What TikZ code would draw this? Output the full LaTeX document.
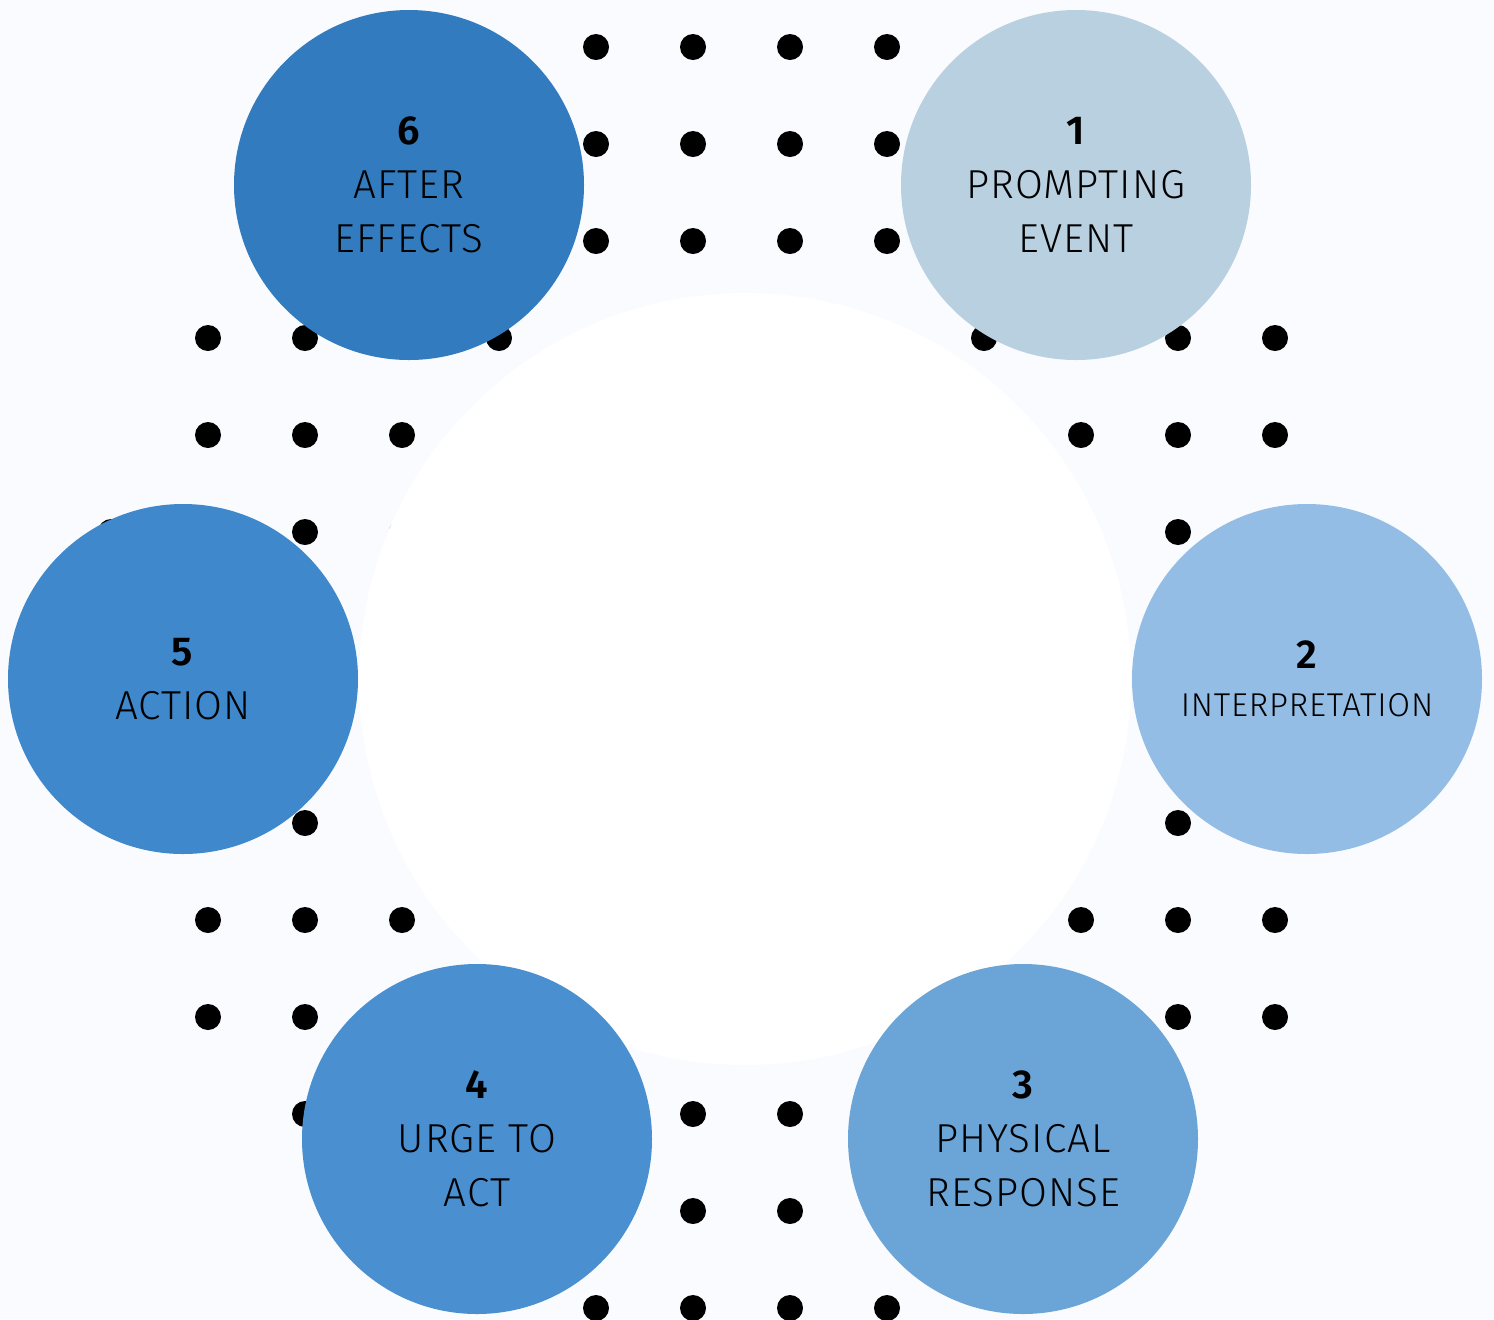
\documentclass[tikz,border=0pt]{standalone}
\usepackage{fontspec}
\setmainfont{Fira Sans Light}[BoldFont={Fira Sans SemiBold}, LetterSpace=2.5]
\usepackage{tikz}
\usetikzlibrary{positioning}
\usepackage{xcolor}
\definecolor{paper}{RGB}{249,251,254}
\definecolor{stageA}{RGB}{184,208,223}
\definecolor{stageB}{RGB}{148,189,229}
\definecolor{stageC}{RGB}{107,165,215}
\definecolor{stageD}{RGB}{74,143,208}
\definecolor{stageE}{RGB}{63,136,204}
\definecolor{stageF}{RGB}{50,123,191}

\tikzset{
  stage/.style={circle, minimum size=175pt, inner sep=0pt, align=center,
    text=black, font=\fontsize{20.2}{27}\selectfont},
}

\begin{document}
\begin{tikzpicture}[x=0.5pt, y=-0.5pt]
  \fill[paper] (0,0) rectangle (1494,1319);
  \useasboundingbox (0,0) rectangle (1494,1319);
  \foreach \i in {0,...,13}{
    \foreach \j in {0,...,13}{
      \pgfmathtruncatemacro{\keep}{(\i-6.5)^2+(\j-6.5)^2 < 46.2}
      \ifnum\keep=1
        \fill (111+97*\i, 47+97*\j) circle[radius=6.5pt];
      \fi
    }
  }
  \fill[white] (745,679) circle[radius=193pt];
  \node[stage, fill=stageA] (prompt) at (1076,185) {\textbf{1}\\PROMPTING\\EVENT};
  \node[stage, fill=stageB] (interp) at (1307,679) {\textbf{2}\\[-3pt]{\fontsize{16.5}{24}\selectfont INTERPRETATION}};
  \node[stage, fill=stageC] (physical) at (1023,1139) {\textbf{3}\\PHYSICAL\\RESPONSE};
  \node[stage, fill=stageD] (urge) at (477,1139) {\textbf{4}\\URGE TO\\ACT};
  \node[stage, fill=stageE] (action) at (183,679) {\textbf{5}\\ACTION};
  \node[stage, fill=stageF] (after) at (409,185) {\textbf{6}\\AFTER\\EFFECTS};
\end{tikzpicture}
\end{document}
